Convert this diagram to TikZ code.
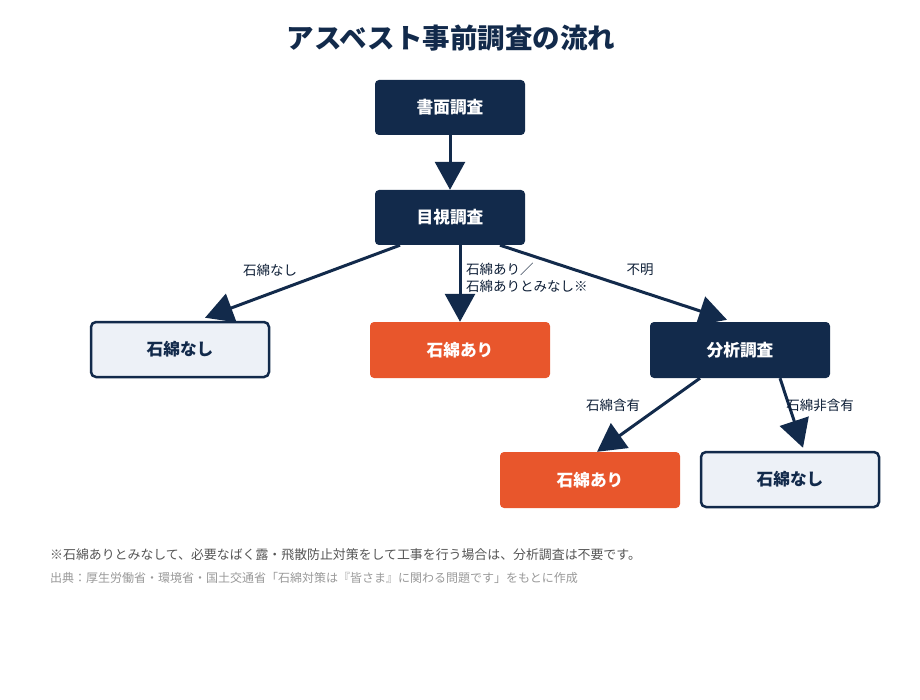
\documentclass[tikz,border=0pt]{standalone}
\usepackage{fontspec}
\setmainfont{Noto Sans CJK JP}
\usetikzlibrary{arrows.meta}
\definecolor{navy}{HTML}{122A4B}
\definecolor{orng}{HTML}{E8562C}
\definecolor{pale}{HTML}{EDF1F7}
\definecolor{note}{HTML}{555555}
\definecolor{src}{HTML}{999999}
\tikzset{
  darkbox/.style={fill=navy, text=white, rounded corners=4pt, minimum width=150pt, minimum height=55pt, font=\fontsize{16.7}{18}\selectfont\bfseries, inner sep=0pt},
  orangebox/.style={fill=orng, text=white, rounded corners=4pt, minimum width=180pt, minimum height=56pt, font=\fontsize{16.7}{18}\selectfont\bfseries, inner sep=0pt},
  palebox/.style={fill=pale, draw=navy, line width=2.5pt, text=navy, rounded corners=5pt, minimum width=178pt, minimum height=55pt, font=\fontsize{16.7}{18}\selectfont\bfseries, inner sep=0pt},
  conn/.style={draw=navy, line width=3pt, -{Triangle[length=28pt,width=30pt]}},
  elabel/.style={text=navy!70!black, font=\fontsize{13.5}{17}\selectfont, inner sep=0pt},
}
\begin{document}
\begin{tikzpicture}[x=1pt,y=-1pt]
\useasboundingbox (0,0) rectangle (920,700);
\node (title) at (451,38) {\fontsize{27.5}{32}\selectfont\bfseries\color{navy}アスベスト事前調査の流れ};
\node[darkbox] (doc) at (450,107.5) {書面調査};
\node[darkbox] (vis) at (450,217.5) {目視調査};
\node[palebox] (n1) at (180,349.5) {石綿なし};
\node[orangebox] (a1) at (460,350) {石綿あり};
\node[darkbox, minimum width=180pt, minimum height=56pt] (ana) at (740,350) {分析調査};
\node[orangebox] (a2) at (590,480) {石綿あり};
\node[palebox] (n2) at (790,479.5) {石綿なし};
\draw[conn] (doc.south) -- (vis.north);
\draw[conn] ([xshift=-50pt]vis.south) -- ([xshift=25pt,yshift=3pt]n1.north);
\draw[conn] ([xshift=10pt]vis.south) -- (a1.north);
\draw[conn] ([xshift=50pt]vis.south) -- ([xshift=-13pt,yshift=2pt]ana.north);
\draw[conn] ([xshift=-40pt]ana.south) -- ([xshift=7pt]a2.north);
\draw[conn] ([xshift=40pt]ana.south) -- ([xshift=13pt,yshift=3pt]n2.north);
\node[elabel] (l1) at (270,270) {石綿なし};
\node[elabel, align=left, anchor=west] (l2) at (466,278) {石綿あり／\\石綿ありとみなし※};
\node[elabel] (l3) at (640,270) {不明};
\node[elabel] (l4) at (613,405) {石綿含有};
\node[elabel] (l5) at (820,405) {石綿非含有};
\node[anchor=west, inner sep=0pt, text=note, font=\fontsize{12.9}{14}\selectfont] (fn1) at (50,555) {※石綿ありとみなして、必要なばく露・飛散防止対策をして工事を行う場合は、分析調査は不要です。};
\node[anchor=west, inner sep=0pt, text=src, font=\fontsize{12}{13}\selectfont] (fn2) at (50,578) {出典：厚生労働省・環境省・国土交通省「石綿対策は『皆さま』に関わる問題です」をもとに作成};
\end{tikzpicture}
\end{document}
